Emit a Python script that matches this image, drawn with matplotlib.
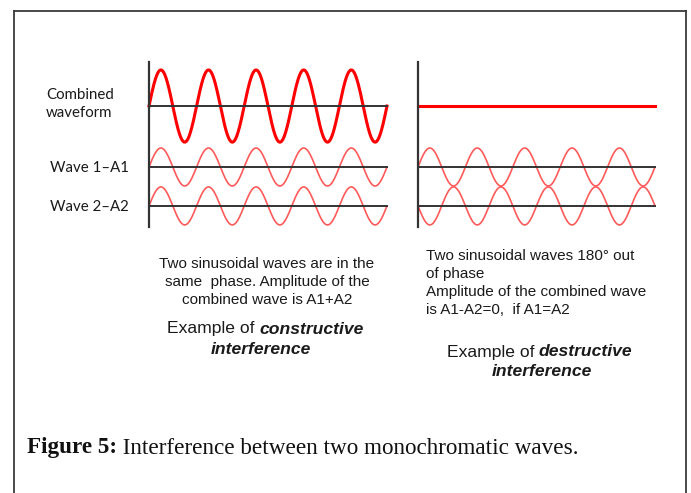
import numpy as np
import matplotlib
matplotlib.use('Agg')
import matplotlib.pyplot as plt

# 波形参数
cycles = 5
A1 = 1.0
A2 = 1.0
phase_constructive = 0.0      # 度
phase_destructive = 180.0     # 度
offsets = [0.0, -3.21, -5.26]  # combined, wave1, wave2 的基线
row_labels = ["Wave 1\u2013A1", "Wave 2\u2013A2"]

left_text = "Two sinusoidal waves are in the\nsame  phase. Amplitude of the\ncombined wave is A1+A2"
right_text = ("Two sinusoidal waves 180\u00b0 out\nof phase\n"
              "Amplitude of the combined wave\nis A1-A2=0,  if A1=A2")
caption_bold = "Figure 5:"
caption_rest = " Interference between two monochromatic waves."

W, H = 691, 493
fig = plt.figure(figsize=(W / 100, H / 100), dpi=100)

# 背景层, 像素坐标
bg = fig.add_axes([0, 0, 1, 1])
bg.set_xlim(0, W)
bg.set_ylim(H, 0)
bg.axis('off')
frame_c = '#3a3a3a'
bg.plot([14.5, 14.5], [11, H], color=frame_c, lw=1.3)
bg.plot([686, 686], [11, H], color=frame_c, lw=1.3)
bg.plot([14.5, 686], [11, 11], color=frame_c, lw=1.3)

lab_font = {'family': 'Lato', 'size': 10.8, 'color': '#1a1a1a'}
bg.text(46, 104, "Combined\nwaveform", ha='left', va='center', linespacing=1.3, **lab_font)
bg.text(50, 168, row_labels[0], ha='left', va='center', **lab_font)
bg.text(50, 207, row_labels[1], ha='left', va='center', **lab_font)

body = {'family': 'Liberation Sans', 'size': 11.0, 'color': '#1a1a1a'}
bg.text(267, 282, left_text, ha='center', va='center', linespacing=1.35, **body)
bg.text(426, 283, right_text, ha='left', va='center', linespacing=1.37, **body)

big = {'family': 'Liberation Sans', 'size': 12.6, 'color': '#1a1a1a'}
bg.text(259, 329, "Example of ", ha='right', va='center', **big)
bg.text(259, 329, "constructive", ha='left', va='center', fontweight='bold', style='italic', **big)
bg.text(261, 349, "interference", ha='center', va='center', fontweight='bold', style='italic', **big)
bg.text(539, 352, "Example of ", ha='right', va='center', **big)
bg.text(539, 352, "destructive", ha='left', va='center', fontweight='bold', style='italic', **big)
bg.text(542, 372, "interference", ha='center', va='center', fontweight='bold', style='italic', **big)

cap = bg.text(27, 448, caption_bold, ha='left', va='center', family='Liberation Serif',
              fontsize=16.7, fontweight='bold', color='#111111')
fig.canvas.draw()
bb = cap.get_window_extent()
x_end = bg.transData.inverted().transform((bb.x1, bb.y0))[0]
bg.text(x_end, 448, caption_rest, ha='left', va='center', family='Liberation Serif',
        fontsize=16.7, color='#111111')

# 波形面板
t = np.linspace(0, cycles, 800)
ylo, yhi = -6.37, 2.32
thick_c = '#ff0000'
thin_c = '#ff5a5a'
line_c = '#333333'


def panel(x0, x1, phase):
    ax = fig.add_axes([x0 / W, (H - 227) / H, (x1 - x0) / W, 165 / H])
    ax.set_xlim(0, cycles)
    ax.set_ylim(ylo, yhi)
    ax.axis('off')
    ph = np.deg2rad(phase)
    w1 = A1 * np.sin(2 * np.pi * t)
    w2 = A2 * np.sin(2 * np.pi * t + ph)
    comb = w1 + w2
    ax.plot(t, w1 + offsets[1], color=thin_c, lw=1.2, clip_on=False, zorder=2)
    ax.plot(t, w2 + offsets[2], color=thin_c, lw=1.2, clip_on=False, zorder=2)
    for off in offsets[1:]:
        ax.plot([0, cycles], [off, off], color=line_c, lw=1.4, clip_on=False, zorder=3)
    if phase == 0.0:
        ax.plot([0, cycles], [offsets[0], offsets[0]], color=line_c, lw=1.4, clip_on=False, zorder=3)
    ax.plot(t, comb * 0.95 + offsets[0], color=thick_c, lw=2.2, clip_on=False, zorder=2)
    ax.plot([0, 0], [ylo, yhi], color=line_c, lw=1.6, clip_on=False, zorder=4)
    return ax


panel(149, 387, phase_constructive)
panel(418, 655, phase_destructive)

plt.savefig("out.png", dpi=100)
